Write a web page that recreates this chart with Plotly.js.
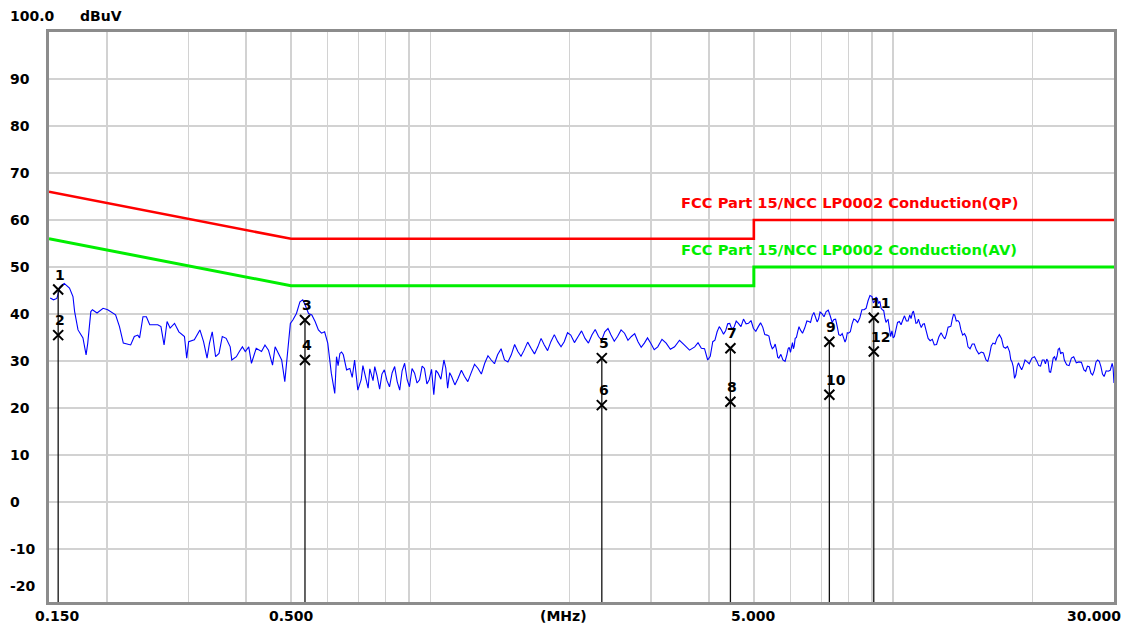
<!DOCTYPE html>
<html>
<head>
<meta charset="utf-8">
<script src="https://cdn.plot.ly/plotly-3.0.1.min.js"></script>
<style>
  html, body { margin: 0; padding: 0; background: #ffffff; }
  #chart { width: 1128px; height: 626px; }
</style>
</head>
<body>
<div id="chart"></div>
<script>
// ---------------- data ----------------
// main sweep readings
const freqMHz = [
  0.1509,0.1534,0.156,0.1586,0.1618,0.1661,0.169,0.1704,0.1733,0.1776,0.1804,0.1819,0.1847,0.1862,0.1905,0.1963,
  0.2009,0.2089,0.2130,0.2171,0.2252,0.2293,0.2333,0.2354,0.2394,0.2435,0.2476,0.2577,0.2618,0.2659,0.2699,0.2740,
  0.2801,0.2862,0.2943,0.2976,0.3005,0.3091,0.3178,0.3236,0.3293,0.3333,0.3379,0.3436,0.3495,0.3552,0.3621,0.3695,
  0.3724,0.3810,0.3867,0.3926,0.3983,0.4052,0.4107,0.4205,0.4318,0.4393,0.4470,0.4561,0.4620,0.4698,0.4773,0.4848,
  0.4902,0.4939,0.4984,0.5046,0.5137,0.5227,0.5301,0.5364,0.5456,0.5546,0.5637,0.5730,0.5820,0.5910,0.6003,0.6110,
  0.6216,0.6271,0.632,0.6377,0.643,0.6487,0.654,0.6593,0.6700,0.678,0.6861,0.6971,0.7089,0.715,0.7212,0.728,
  0.7338,0.740,0.7461,0.752,0.7584,0.767,0.7770,0.786,0.7955,0.806,0.8162,0.827,0.8374,0.848,0.8587,0.869,
  0.8800,0.891,0.9014,0.913,0.9247,0.936,0.9479,0.960,0.9712,0.983,0.9944,1.006,1.0174,1.028,1.0392,1.054,
  1.0698,1.080,1.0899,1.101,1.1117,1.130,1.1482,1.167,1.1853,1.205,1.2246,1.246,1.2679,1.289,1.3107,1.332,
  1.3540,1.376,1.3974,1.422,1.4461,1.471,1.4959,1.521,1.5456,1.570,1.5948,1.623,1.6506,1.679,1.7072,1.735,
  1.7629,1.792,1.8216,1.853,1.8845,1.916,1.9465,1.979,2.011,2.048,2.086,2.122,2.159,2.196,2.234,2.271,
  2.309,2.345,2.382,2.420,2.457,2.497,2.538,2.583,2.628,2.673,2.719,2.764,2.810,2.855,2.900,2.946,
  2.992,3.046,3.100,3.166,3.232,3.301,3.371,3.454,3.537,3.631,3.726,3.788,3.851,3.912,3.974,4.025,
  4.076,4.165,4.255,4.345,4.435,4.532,4.630,4.749,4.868,4.990,5.112,5.226,5.341,5.434,5.527,5.595,
  5.663,5.778,5.893,5.962,6.032,6.087,6.142,6.222,6.303,6.439,6.575,6.683,6.791,6.899,7.007,7.164,
  7.321,7.446,7.571,7.696,7.821,7.914,8.008,8.152,8.295,8.473,8.650,8.825,9.000,9.120,9.241,9.359,
  9.477,9.595,9.713,9.793,9.873,10.00,10.125,10.31,10.49,10.68,10.86,11.00,11.13,11.27,11.41,11.59,
  11.77,12.02,12.27,12.55,12.82,13.03,13.25,13.42,13.58,13.80,14.01,14.26,14.51,14.82,15.13,15.50,
  15.87,16.15,16.43,16.78,17.14,17.49,17.84,18.06,18.29,18.54,18.79,19.11,19.43,19.94,20.45,20.82,
  21.19,21.47,21.75,22.03,22.32,22.60,22.87,23.15,23.43,23.99,24.55,25.19,25.83,26.29,26.75,27.20,
  27.66,28.11,28.56,29.15,29.73,30.00
];
const levelDbuV = [
  43.4,43.0,43.3,45.8,46.5,45.5,43.7,40.5,36.6,34.9,31.3,33.8,40.5,40.9,40.2,41.2,
  40.9,39.8,37.3,33.8,33.4,35.2,35.5,34.9,39.4,39.4,37.7,37.7,37.3,33.4,38.4,37.0,
  38.0,36.2,35.2,30.6,34.1,34.5,36.6,34.1,30.6,33.8,36.2,30.9,31.6,35.2,34.8,33.0,
  30.2,30.9,32.0,33.0,32.0,33.0,29.5,32.7,32.0,33.4,32.3,29.1,33.0,31.6,30.2,25.6,
  30.2,32.7,38.0,38.7,40.1,42.6,43.0,41.9,40.1,39.8,38.4,36.6,35.9,36.2,33.8,27.4,
  23.1,30.9,29.0,31.6,31.9,31.3,29.6,28.1,28.4,26.5,30.2,23.8,26.0,29.0,27.4,25.5,
  24.2,28.3,27.0,25.8,28.8,26.9,24.0,27.2,28.1,25.8,24.5,27.5,28.8,25.6,23.8,27.9,
  29.5,26.0,24.5,28.4,27.4,25.3,26.0,28.9,28.4,25.1,26.0,28.2,22.8,28.0,27.4,26.1,
  30.2,28.5,24.2,27.5,26.7,24.9,26.3,28.0,26.7,25.6,27.4,29.3,28.4,27.2,29.5,31.1,
  30.2,29.4,31.3,32.6,30.2,29.8,31.3,33.5,32.0,31.0,32.3,34.0,32.7,31.5,33.0,34.8,
  33.4,32.2,34.1,35.6,34.1,33.0,34.1,36.0,35.5,33.9,35.2,36.4,34.8,33.8,35.5,36.7,
  35.2,34.4,36.2,36.9,35.5,34.2,35.2,36.6,35.9,34.4,35.2,35.8,34.1,32.9,33.8,34.9,
  33.8,32.4,33.0,34.6,33.8,32.5,33.0,34.4,33.4,32.3,33.0,33.9,32.7,32.6,30.2,31.0,
  34.1,36.2,36.6,36.4,38.0,37.2,38.0,38.9,38.0,36.9,37.3,37.2,35.5,33.6,33.0,32.4,
  30.6,30.2,31.3,32.9,33.0,32.6,34.8,36.3,36.6,37.0,38.4,39.6,39.4,38.9,40.1,40.5,
  39.4,38.8,37.3,35.4,34.8,34.6,35.9,37.9,38.7,39.2,40.9,42.8,43.7,42.6,43.3,42.7,
  40.9,39.2,38.7,37.6,35.2,34.9,36.6,38.4,38.7,38.5,39.8,40.2,39.4,38.1,38.0,37.8,
  36.6,34.3,33.4,35.1,35.2,35.6,37.3,38.9,39.8,38.6,36.6,35.8,33.0,33.6,32.3,31.9,
  30.2,31.3,33.8,34.9,34.8,32.7,32.0,29.8,26.3,28.9,28.8,29.0,29.9,30.6,29.9,28.9,
  30.2,30.4,27.7,29.0,30.9,31.0,32.7,31.8,30.2,29.0,30.9,29.8,28.1,28.9,27.4,28.0,
  30.2,28.8,26.7,27.8,29.5,25.3
];
// extra in-between readings of the fine noise, 4-30 MHz
const freqMHzFine = [
  4.12,4.21,4.30,4.39,4.48,4.58,4.69,4.81,4.93,5.05,5.17,5.28,5.39,5.48,5.56,5.63,
  5.72,5.84,5.93,6.00,6.06,6.11,6.18,6.26,6.37,6.51,6.63,6.74,6.85,6.95,7.09,7.24,
  7.38,7.51,7.63,7.76,7.87,7.96,8.08,8.22,8.38,8.56,8.74,8.91,9.06,9.18,9.30,9.42,
  9.54,9.65,9.75,9.83,9.94,10.06,10.22,10.40,10.58,10.77,10.93,11.06,11.20,11.34,11.50,11.68,
  11.90,12.15,12.41,12.69,12.93,13.14,13.33,13.50,13.69,13.90,14.13,14.38,14.66,14.97,15.31,15.68,
  16.01,16.29,16.60,16.96,17.31,17.66,17.95,18.17,18.41,18.66,18.95,19.27,19.68,20.20,20.63,21.00,
  21.33,21.61,21.89,22.17,22.46,22.73,23.01,23.29,23.71,24.27,24.87,25.51,26.06,26.52,26.97,27.43,
  27.88,28.33,28.85,29.44,29.86
];
const levelDbuVFine = [
  34.4,37.3,35.7,37.9,36.8,38.5,37.3,37.9,38.6,36.3,38.1,35.6,35.3,32.6,33.6,30.8,
  31.4,29.9,32.6,31.8,33.9,33.1,35.0,37.3,35.9,38.5,38.2,40.3,38.3,40.4,39.4,40.8,
  38.2,38.9,35.6,35.8,34.0,36.0,36.2,38.9,38.2,40.9,41.2,43.9,42.4,43.6,42.2,41.2,
  40.7,38.2,38.8,35.7,36.4,35.2,38.2,37.7,39.6,38.5,39.0,40.6,38.0,38.9,37.1,37.9,
  34.8,34.6,33.5,36.0,34.7,37.2,37.4,39.9,38.5,38.2,35.5,35.1,32.6,33.6,31.5,31.7,
  29.9,33.2,33.6,35.6,33.0,33.1,30.3,28.8,27.0,29.6,28.1,30.2,29.4,30.9,29.0,30.2,
  29.4,29.9,27.6,30.6,30.1,32.5,31.5,31.7,29.2,30.6,29.6,29.7,27.8,28.8,27.0,29.8,
  29.9,27.2,27.9,28.0,28.6
];

// limit lines
const limitFreq = [0.15, 0.5, 5, 5, 30];
const qpLimit   = [66, 56, 56, 60, 60];
const avLimit   = [56, 46, 46, 50, 50];
const qpName = "FCC Part 15/NCC LP0002 Conduction(QP)";
const avName = "FCC Part 15/NCC LP0002 Conduction(AV)";

// markers (peak list)
const markerFreq  = [0.157, 0.157, 0.536, 0.536, 2.347, 2.347, 4.45, 4.45, 7.28, 7.28, 9.08, 9.08];
const markerLevel = [45.2, 35.5, 38.7, 30.2, 30.6, 20.6, 32.7, 21.3, 34.1, 22.8, 39.2, 32.0];
const markerLabel = ["1","2","3","4","5","6","7","8","9","10","11","12"];

// axes
const xGridFreq  = [0.2,0.3,0.4,0.5,0.6,0.7,0.8,0.9,1,2,3,4,5,6,7,8,9,10,20];
const xTickVals  = [0.15, 0.5, 2, 5, 30];
const xTickText  = ["0.150", "0.500", "(MHz)", "5.000", "30.000"];
const yGridVals  = [-10, 0, 10, 20, 30, 40, 50, 60, 70, 80, 90];
const yTickVals  = [100, 90, 80, 70, 60, 50, 40, 30, 20, 10, 0, -10, -20];
const yTickText  = ["100.0","90","80","70","60","50","40","30","20","10","0","-10","-20"];
const yUnit = "dBuV";

// ---------------- drawing ----------------
const FONT = "DejaVu Sans";
const yMin = -21.3, yMax = 100;
const L = 49, R = 14, T = 32, B = 24, W = 1128, H = 626;
const plotW = W - L - R;

// merge the sweep readings into one frequency-ordered trace
const sweep = freqMHz.map((f, i) => [f, levelDbuV[i]])
  .concat(freqMHzFine.map((f, i) => [f, levelDbuVFine[i]]))
  .sort((a, b) => a[0] - b[0]);

const traces = [];
traces.push({
  x: limitFreq, y: qpLimit, type: 'scatter', mode: 'lines',
  line: {color: '#ff0000', width: 2.6}, hoverinfo: 'skip'
});
traces.push({
  x: limitFreq, y: avLimit, type: 'scatter', mode: 'lines',
  line: {color: '#00ee00', width: 3}, hoverinfo: 'skip'
});
traces.push({
  x: sweep.map(p => p[0]), y: sweep.map(p => p[1]), type: 'scatter', mode: 'lines',
  line: {color: '#0000ff', width: 1.1}
});
// marker stems: from the upper marker of each pair down to the bottom
for (let i = 0; i < markerFreq.length; i += 2) {
  const top = Math.max(markerLevel[i], markerLevel[i + 1]);
  traces.push({
    x: [markerFreq[i], markerFreq[i]], y: [top, yMin], type: 'scatter', mode: 'lines',
    line: {color: '#111111', width: 1.3}, hoverinfo: 'skip'
  });
}
traces.push({
  x: markerFreq, y: markerLevel, type: 'scatter', mode: 'markers',
  marker: {symbol: 'x-thin', size: 10, line: {width: 2, color: '#000000'}, color: '#000000'}
});

const annotations = [];
// y labels (left aligned)
yTickVals.forEach((v, i) => {
  let ys = 0;
  if (v === yMax) ys = 16;
  if (i === yTickVals.length - 1) ys = 10;
  annotations.push({
    xref: 'paper', yref: 'y', x: -(L - 8) / plotW, y: v, xanchor: 'left', yanchor: 'middle',
    yshift: ys, text: yTickText[i], showarrow: false,
    font: {family: FONT, size: 14, weight: 'bold', color: '#000'}
  });
});
annotations.push({
  xref: 'paper', yref: 'y', x: (78 - L) / plotW, y: yMax, xanchor: 'left', yanchor: 'middle',
  yshift: 16, text: yUnit, showarrow: false,
  font: {family: FONT, size: 14, weight: 'bold', color: '#000'}
});
// x labels
xTickVals.forEach((v, i) => {
  let anchor = 'center', xs = 0;
  if (i === 0) { anchor = 'left'; xs = -16; }
  if (i === xTickVals.length - 1) { anchor = 'right'; xs = 9; }
  if (xTickText[i].startsWith('(')) xs = -6;
  annotations.push({
    xref: 'x', yref: 'paper', x: Math.log10(v), y: 0, xanchor: anchor, yanchor: 'middle',
    xshift: xs, yshift: -14, text: xTickText[i], showarrow: false,
    font: {family: FONT, size: 14, weight: 'bold', color: '#000'}
  });
});
// limit names
annotations.push({
  xref: 'x', yref: 'y', x: Math.log10(3.45), y: 63.8, xanchor: 'left', yanchor: 'middle',
  text: qpName, showarrow: false, font: {family: FONT, size: 14.7, weight: 'bold', color: '#ff0000'}
});
annotations.push({
  xref: 'x', yref: 'y', x: Math.log10(3.45), y: 53.7, xanchor: 'left', yanchor: 'middle',
  text: avName, showarrow: false, font: {family: FONT, size: 14.7, weight: 'bold', color: '#00ee00'}
});
// marker numbers
markerFreq.forEach((f, i) => {
  annotations.push({
    xref: 'x', yref: 'y', x: Math.log10(f), y: markerLevel[i], xanchor: 'left', yanchor: 'middle',
    xshift: -5, yshift: 15, text: markerLabel[i], showarrow: false,
    font: {family: FONT, size: 14, weight: 'bold', color: '#000'}
  });
});

const layout = {
  width: W, height: H,
  margin: {l: L, r: R, t: T, b: B, pad: 0},
  paper_bgcolor: '#ffffff', plot_bgcolor: '#ffffff',
  showlegend: false,
  xaxis: {
    type: 'log', range: [Math.log10(0.15), Math.log10(30)],
    tickmode: 'array', tickvals: xGridFreq, showticklabels: false, ticks: '',
    showgrid: true, gridcolor: '#d2d2d2', gridwidth: 1.5,
    showline: true, mirror: true, linecolor: '#8c8c8c', linewidth: 3, zeroline: false
  },
  yaxis: {
    range: [yMin, yMax],
    tickmode: 'array', tickvals: yGridVals, showticklabels: false, ticks: '',
    showgrid: true, gridcolor: '#d2d2d2', gridwidth: 1.5,
    showline: true, mirror: true, linecolor: '#8c8c8c', linewidth: 3, zeroline: false
  },
  annotations: annotations
};

Plotly.newPlot('chart', traces, layout, {displayModeBar: false, staticPlot: true});
</script>
</body>
</html>
